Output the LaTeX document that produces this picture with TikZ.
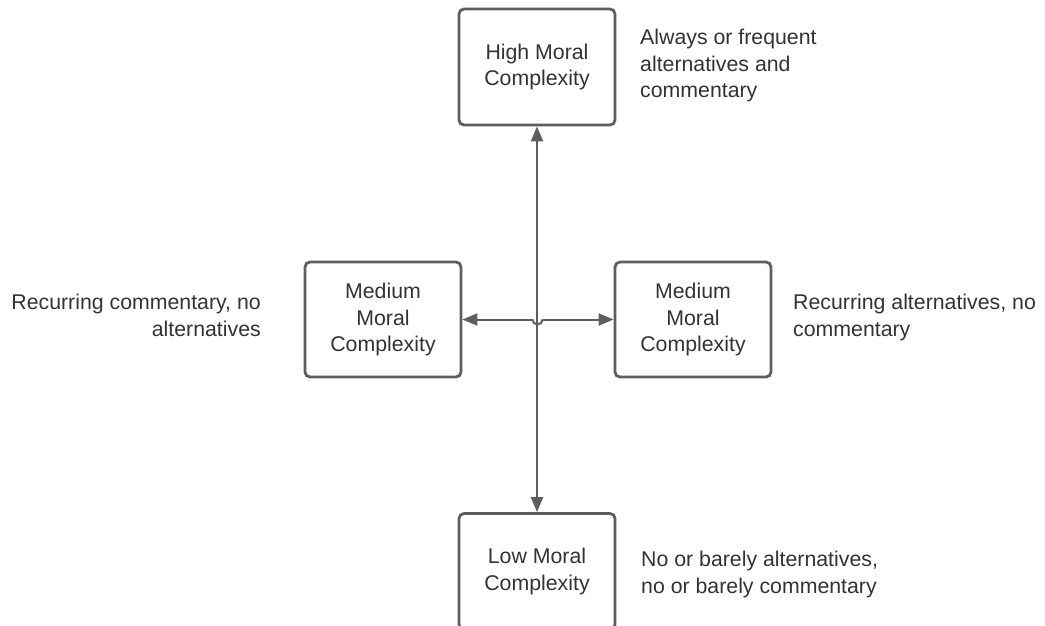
\documentclass[tikz,border=0pt]{standalone}
\usepackage{fontspec}
\setmainfont{Liberation Sans}
\usetikzlibrary{arrows.meta}
\definecolor{lineg}{HTML}{5E5E5E}
\definecolor{textg}{HTML}{333333}
\begin{document}
\begin{tikzpicture}[x=1pt,y=-1pt,
  every node/.style={font=\fontsize{21.3pt}{26.5pt}\selectfont, text=textg},
  mbox/.style={draw=lineg, line width=2.8pt, rounded corners=5pt, minimum width=156pt, minimum height=116pt, align=center, inner sep=0pt},
  lbl/.style={inner sep=0pt},
  conn/.style={draw=lineg, line width=2pt, {Triangle[length=15pt,width=12pt]}-{Triangle[length=15pt,width=12pt]}},
]
\useasboundingbox[fill=white] (0,0) rectangle (1045,625);
\node[mbox] (high) at (537,67) {High Moral\\Complexity};
\node[mbox] (low) at (537,571.5) {Low Moral\\Complexity};
\node[mbox, minimum height=115pt] (medl) at (383,319.5) {Medium\\Moral\\Complexity};
\node[mbox, minimum height=115pt] (medr) at (693,319.5) {Medium\\Moral\\Complexity};
\coordinate (hopl) at (532.5,319.5);
\coordinate (hopr) at (542.5,319.5);
\draw[conn] (high.south) -- (low.north);
\draw[draw=lineg, line width=2pt, {Triangle[length=15pt,width=12pt]}-] (medl.east) -- (hopl);
\draw[draw=lineg, line width=2pt, -{Triangle[length=15pt,width=12pt]}] (hopr) -- (medr.west);
\draw[draw=lineg, line width=2pt] (hopl) arc[start angle=180, end angle=0, radius=5];
\node[lbl, anchor=north west, align=left] (thigh) at (640,29) {Always or frequent\\alternatives and\\commentary};
\node[lbl, anchor=north east, align=right] (tleft) at (261,294) {Recurring commentary, no\\alternatives};
\node[lbl, anchor=north west, align=left] (tright) at (793,294) {Recurring alternatives, no\\commentary};
\node[lbl, anchor=north west, align=left] (tlow) at (641,551) {No or barely alternatives,\\no or barely commentary};
\end{tikzpicture}
\end{document}
